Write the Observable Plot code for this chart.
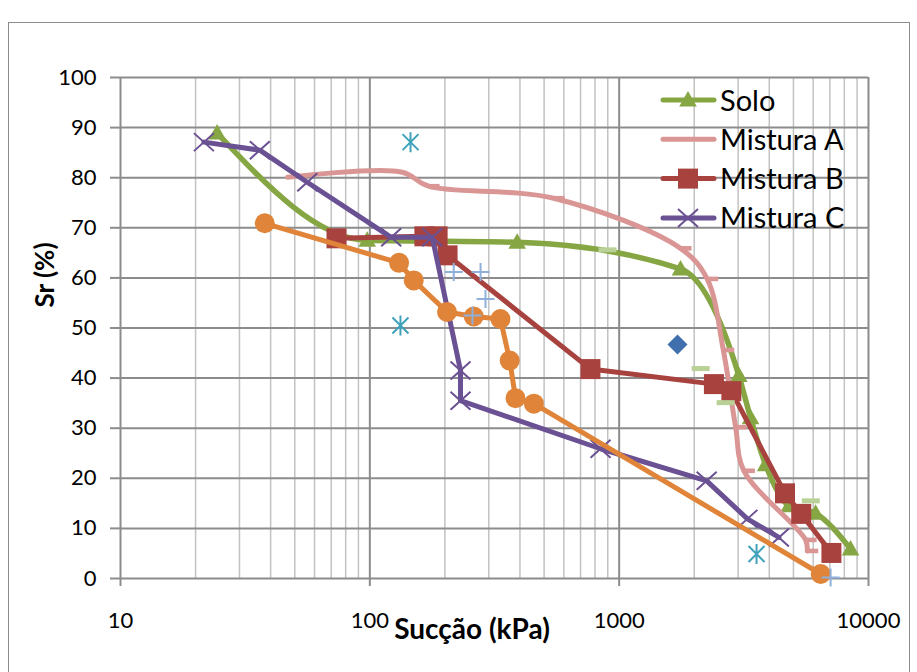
<!DOCTYPE html>
<html><head><meta charset="utf-8">
<script src="https://cdn.jsdelivr.net/npm/d3@7"></script>
<script src="https://cdn.jsdelivr.net/npm/@observablehq/plot@0.6"></script>
<style>
body{margin:0;background:#fff;}
#wrap{position:relative;width:917px;height:672px;overflow:hidden;background:#fff;}
#frame{position:absolute;left:8px;top:22px;width:902px;height:720px;border:1.5px solid #8c8c8c;box-sizing:border-box;}
#chart{position:absolute;left:0;top:0;}
</style></head><body>
<div id="wrap"><div id="frame"></div><div id="chart"></div></div>
<script>
// ---- data ----
const seriesNames = ["Solo", "Mistura A", "Mistura B", "Mistura C"];
const soloX = [24.4, 97.6, 390, 1762, 3020, 3365, 3867, 4798, 6137, 8472];
const soloY = [88.9, 67.5, 67.1, 61.8, 40.5, 32.1, 22.7, 14.5, 13.0, 5.9];
const aX = [46.8, 135, 172, 546, 1762, 2254, 2616, 2932, 3164, 5594, 5679];
const aY = [80.1, 81.1, 78.3, 75.9, 65.9, 59.8, 45.6, 30.2, 21.5, 7.7, 5.5];
const bX = [73.5, 165.5, 187, 205, 767, 2399, 2818, 4625, 5373, 7100];
const bY = [67.9, 68.3, 68.3, 64.5, 41.8, 38.8, 37.4, 17.0, 12.9, 5.1];
const cX = [21.6, 36.2, 56.1, 121.8, 178, 231, 231, 842, 2244, 3268, 4372];
const cY = [87.1, 85.5, 79.1, 68.1, 68.1, 41.5, 35.5, 25.9, 19.5, 11.9, 8.2];
const orangeX = [37.9, 131, 150, 204, 261, 334, 364, 384, 455, 6432];
const orangeY = [70.9, 63.0, 59.5, 53.2, 52.3, 51.8, 43.5, 36.0, 34.9, 0.9];
const cyanX = [145.6, 132.7, 3556];
const cyanY = [87.1, 50.5, 4.9];
const plusX = [217, 278, 291, 258, 7047];
const plusY = [61.2, 61.2, 55.8, 52.5, 0.2];
const diamondX = [1714];
const diamondY = [46.7];
const lgX = [898, 2123, 2674, 5867];
const lgY = [65.6, 41.9, 35.1, 15.5];
const xTicks = [10, 100, 1000, 10000];
const yTicks = [0, 10, 20, 30, 40, 50, 60, 70, 80, 90, 100];

// ---- styles ----
const C = {solo:"#86a644", a:"#d99694", b:"#a8423f", c:"#6a5193", orange:"#df8438",
  cyan:"#3fa2ba", plus:"#8fb0db", diamond:"#3f6fad", lg:"#b9d196"};
const toRows = (xs, ys) => xs.map((x, i) => ({x, y: ys[i]}));

const triSym = {draw(c){c.moveTo(0,-9);c.lineTo(8.8,6.5);c.lineTo(-8.8,6.5);c.closePath();}};
const sqSym = {draw(c){c.rect(-10,-10,20,20);}};
const timesSym = {draw(c){c.moveTo(-10,-9);c.lineTo(10,9);c.moveTo(-10,9);c.lineTo(10,-9);}};
const starSym = {draw(c){c.moveTo(0,-10);c.lineTo(0,10);c.moveTo(-8,-8);c.lineTo(8,8);c.moveTo(-8,8);c.lineTo(8,-8);}};
const plusSym = {draw(c){c.moveTo(-9,0);c.lineTo(9,0);c.moveTo(0,-9);c.lineTo(0,9);}};
const diaSym = {draw(c){c.moveTo(0,-10);c.lineTo(10,0);c.lineTo(0,10);c.lineTo(-10,0);c.closePath();}};
const dashSym = {draw(c){c.rect(-9,-2.5,18,5);}};
const dashRSym = {draw(c){c.rect(0,-2.3,11,4.6);}};

const minorX = [];
for (const d of [10, 100, 1000]) for (let k = 2; k <= 9; k++) minorX.push(d * k);

const solo = toRows(soloX, soloY), mA = toRows(aX, aY), mB = toRows(bX, bY), mC = toRows(cX, cY);
const orange = toRows(orangeX, orangeY), cyan = toRows(cyanX, cyanY), plus = toRows(plusX, plusY);
const dia = toRows(diamondX, diamondY), lg = toRows(lgX, lgY);
const lineOpts = {x:"x", y:"y", strokeLinecap:"round", strokeLinejoin:"round"};

const chart = Plot.plot({
  width: 917, height: 672,
  marginLeft: 120, marginRight: 49, marginTop: 77, marginBottom: 94,
  x: {type: "log", domain: [10, 10000]},
  y: {domain: [0, 100]},
  style: {background: "transparent", fontFamily: "Lato, 'Open Sans', sans-serif", fontSize: "22px", color: "#000", overflow: "visible"},
  marks: [
    Plot.ruleX(minorX, {stroke: "#c2c2c2", strokeWidth: 1.5}),
    Plot.ruleX(xTicks, {stroke: "#8c8c8c", strokeWidth: 2}),
    Plot.ruleY(yTicks, {stroke: "#8c8c8c", strokeWidth: 2}),
    Plot.axisX({ticks: xTicks, tickFormat: d => String(d), tickSize: 8, tickPadding: 26, label: null, stroke: "#8c8c8c", strokeWidth: 2}),
    Plot.axisY({ticks: yTicks, tickSize: 10, tickPadding: 14, label: null, stroke: "#8c8c8c", strokeWidth: 2}),
    // Solo
    Plot.line(solo, {...lineOpts, stroke: C.solo, strokeWidth: 5.5, curve: "monotone-x"}),
    Plot.dot(solo, {x: "x", y: "y", symbol: triSym, fill: C.solo, stroke: "none"}),
    // Mistura A
    Plot.line(mA, {...lineOpts, stroke: C.a, strokeWidth: 5, curve: "catmull-rom"}),
    Plot.dot(mA.slice(2), {x: "x", y: "y", symbol: dashRSym, fill: C.a, stroke: "none"}),
    // Mistura B
    Plot.line(mB, {...lineOpts, stroke: C.b, strokeWidth: 5}),
    Plot.dot(mB, {x: "x", y: "y", symbol: sqSym, fill: C.b, stroke: "none"}),
    // Mistura C
    Plot.line(mC, {...lineOpts, stroke: C.c, strokeWidth: 5}),
    Plot.dot(mC, {x: "x", y: "y", symbol: timesSym, fill: "none", stroke: C.c, strokeWidth: 2}),
    // orange
    Plot.line(orange, {...lineOpts, stroke: C.orange, strokeWidth: 5}),
    Plot.dot(orange, {x: "x", y: "y", r: 10, fill: C.orange, stroke: "none"}),
    // other markers
    Plot.dot(cyan, {x: "x", y: "y", symbol: starSym, fill: "none", stroke: C.cyan, strokeWidth: 2}),
    Plot.dot(plus, {x: "x", y: "y", symbol: plusSym, fill: "none", stroke: C.plus, strokeWidth: 2}),
    Plot.dot(dia, {x: "x", y: "y", symbol: diaSym, fill: C.diamond, stroke: "none"}),
    Plot.dot(lg, {x: "x", y: "y", symbol: dashSym, fill: C.lg, stroke: "none"})
  ]
});
document.getElementById("chart").appendChild(chart);

// ---- titles & legend ----
const svg = d3.select(chart);
svg.append("text").text("Sucção (kPa)")
  .attr("x", 472).attr("y", 639).attr("text-anchor", "middle")
  .style("font", "bold 28px Lato, 'Open Sans', sans-serif").attr("fill", "#000");
svg.append("text").text("Sr (%)")
  .attr("transform", "translate(54,275) rotate(-90)").attr("text-anchor", "middle")
  .style("font", "bold 26px Lato, 'Open Sans', sans-serif").attr("fill", "#000");

const legendItems = [
  {name: seriesNames[0], color: C.solo, sym: triSym, fill: true},
  {name: seriesNames[1], color: C.a, sym: null},
  {name: seriesNames[2], color: C.b, sym: sqSym, fill: true},
  {name: seriesNames[3], color: C.c, sym: timesSym, fill: false}
];
const lg0 = svg.append("g");
legendItems.forEach((d, i) => {
  const y = 100 + i * 39.3;
  const g = lg0.append("g").attr("transform", `translate(0,${y})`);
  g.append("line").attr("x1", 663).attr("x2", 714).attr("y1", 0).attr("y2", 0)
    .attr("stroke", d.color).attr("stroke-width", 5).attr("stroke-linecap", "round");
  if (d.sym) {
    g.append("path").attr("d", d3.symbol(d.sym)()).attr("transform", "translate(688,0)")
      .attr("fill", d.fill ? d.color : "none").attr("stroke", d.fill ? "none" : d.color).attr("stroke-width", 2);
  }
  g.append("text").text(d.name).attr("x", 720).attr("y", 10.5).attr("text-anchor", "start")
    .style("font", "29px Lato, 'Open Sans', sans-serif").attr("fill", "#000");
});
</script>
</body></html>
